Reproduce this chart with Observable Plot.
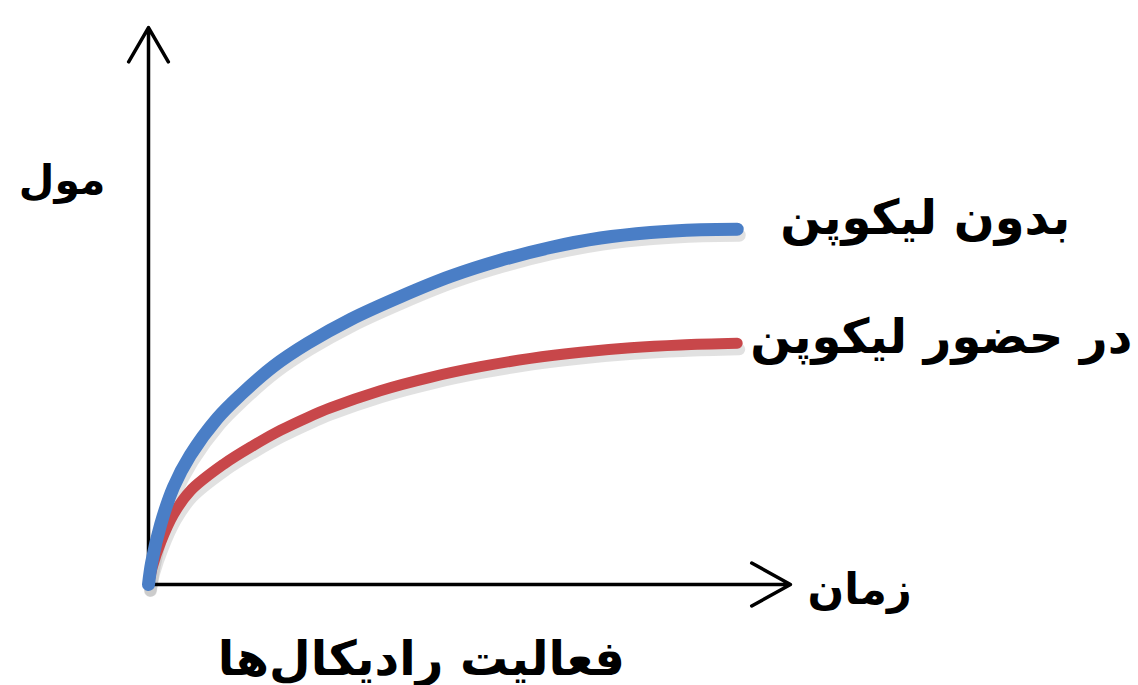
<!DOCTYPE html>
<html>
<head>
<meta charset="utf-8">
<script src="https://cdn.jsdelivr.net/npm/d3@7"></script>
<script src="https://cdn.jsdelivr.net/npm/@observablehq/plot@0.6"></script>
<style>
  html, body { margin: 0; padding: 0; background: #fff; }
  #chart svg { display: block; }
</style>
</head>
<body>
<div id="chart"></div>
<script>
// Series: time (arbitrary units) vs. moles (arbitrary units)
const blueTime = [0,0.5,1.9,3.9,6.5,10.7,14.3,19.5,24.8,31.5,39.3,47.0,54.8,62.6,70.4,78.2,86.0,91.7];
const blueMol  = [0,4.0,10.8,17.5,23.2,29.8,34.0,39.2,43.3,47.6,51.7,55.3,58.2,60.5,62.2,63.2,63.7,63.8];
const redTime  = [0,0.6,1.9,3.9,6.5,11.7,16.4,20.6,24.8,28.3,36.1,43.9,51.7,59.5,67.3,75.1,82.9,91.7];
const redMol   = [0,3.2,7.6,12.6,16.8,21.6,25.0,27.7,30.0,31.7,34.8,37.2,39.1,40.6,41.7,42.5,43.0,43.3];

const seriesNames = ["بدون لیکوپن", "در حضور لیکوپن"];
const yAxisLabel = "مول";
const xAxisLabel = "زمان";
const bottomLabel = "فعالیت رادیکال\u200cها";

const blue = blueTime.map((t, i) => ({t, m: blueMol[i], s: seriesNames[0]}));
const red  = redTime.map((t, i) => ({t, m: redMol[i], s: seriesNames[1]}));

const font = "'DejaVu Sans', sans-serif";

const chart = Plot.plot({
  width: 1138,
  height: 685,
  marginLeft: 148,
  marginRight: 348,
  marginTop: 27,
  marginBottom: 101,
  x: {domain: [0, 100], axis: null},
  y: {domain: [0, 100], axis: null},
  style: {fontFamily: font, background: "#fff", overflow: "visible"},
  marks: [
    // soft drop shadows
    Plot.line(red,  {x: "t", y: "m", stroke: "#9a9a9a", strokeWidth: 12, strokeOpacity: 0.3, dx: 2, dy: 6, curve: "catmull-rom"}),
    Plot.line(blue, {x: "t", y: "m", stroke: "#9a9a9a", strokeWidth: 13, strokeOpacity: 0.3, dx: 2, dy: 6, curve: "catmull-rom"}),
    // axes with arrows
    Plot.arrow([0], {x1: 0, y1: 0, x2: 0, y2: 100, stroke: "#000", strokeWidth: 3.5, headLength: 17, headAngle: 60}),
    Plot.arrow([0], {x1: 0, y1: 0, x2: 100, y2: 0, stroke: "#000", strokeWidth: 3.5, headLength: 19, headAngle: 58}),
    // curves
    Plot.line(red,  {x: "t", y: "m", stroke: "#c8474a", strokeWidth: 11, curve: "catmull-rom"}),
    Plot.line(blue, {x: "t", y: "m", stroke: "#4a7ec6", strokeWidth: 13, curve: "catmull-rom"}),
    // series labels at line ends
    Plot.text([blue[blue.length - 1]], {x: "t", y: "m", text: "s", textAnchor: "start", dx: 43, dy: -11, fontSize: 48, fontWeight: "bold", fill: "#000"}),
    Plot.text([red[red.length - 1]], {x: "t", y: "m", text: "s", textAnchor: "start", dx: 13, dy: -6, fontSize: 48, fontWeight: "bold", fill: "#000"}),
    // axis labels
    Plot.text([yAxisLabel], {x: 0, y: 72.5, text: d => d, textAnchor: "end", dx: -43, fontSize: 41, fontWeight: "bold", fill: "#000"}),
    Plot.text([xAxisLabel], {x: 100, y: 0, text: d => d, textAnchor: "start", dx: 17, dy: 6, fontSize: 43, fontWeight: "bold", fill: "#000"}),
    Plot.text([bottomLabel], {x: 42.5, y: 0, text: d => d, textAnchor: "middle", dy: 75, fontSize: 48, fontWeight: "bold", fill: "#000"})
  ]
});
document.getElementById("chart").appendChild(chart);
</script>
</body>
</html>
